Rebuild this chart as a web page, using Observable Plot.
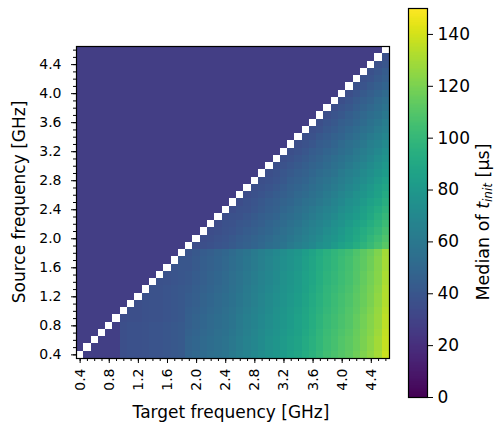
<!DOCTYPE html>
<html><head><meta charset="utf-8">
<script src="https://cdn.jsdelivr.net/npm/d3@7"></script>
<script src="https://cdn.jsdelivr.net/npm/@observablehq/plot@0.6"></script>
<style>
body{margin:0;background:#fff;}
#fig{position:relative;width:495px;height:425px;font-family:"DejaVu Sans",sans-serif;}
#fig svg{position:absolute;top:0;overflow:visible;}
</style></head><body><div id="fig"></div>
<script>
const targetFreqs = [0.4,0.5,0.6,0.7,0.8,0.9,1.0,1.1,1.2,1.3,1.4,1.5,1.6,1.7,1.8,1.9,2.0,2.1,2.2,2.3,2.4,2.5,2.6,2.7,2.8,2.9,3.0,3.1,3.2,3.3,3.4,3.5,3.6,3.7,3.8,3.9,4.0,4.1,4.2,4.3,4.4,4.5,4.6];
const sourceFreqs = [0.4,0.5,0.6,0.7,0.8,0.9,1.0,1.1,1.2,1.3,1.4,1.5,1.6,1.7,1.8,1.9,2.0,2.1,2.2,2.3,2.4,2.5,2.6,2.7,2.8,2.9,3.0,3.1,3.2,3.3,3.4,3.5,3.6,3.7,3.8,3.9,4.0,4.1,4.2,4.3,4.4,4.5,4.6];
const tickLabelFreqs = [0.4,0.8,1.2,1.6,2.0,2.4,2.8,3.2,3.6,4.0,4.4];
const colorbarTicks = [0,20,40,60,80,100,120,140];
const colorbarDomain = [0,150];

// median t_init [µs]; one row per source frequency (bottom to top), one column per target frequency
const medianRows = [
[null,28,28,28,28,28,36,37,37,38,39,39,40,41,42,48,50,52,54,56,58,61,64,67,70,73,76,79,82,85,88,92,96,100,104,107,110,113,117,121,125,130,138],
[27,null,28,28,28,28,36,37,37,38,39,39,40,41,42,47,49,51,53,55,57,60,63,66,69,72,75,78,81,84,87,91,95,99,103,106,109,112,116,120,124,129,137],
[27,27,null,28,28,28,36,37,37,38,39,39,40,41,42,47,49,51,53,55,57,60,63,66,69,72,75,78,81,84,87,91,95,99,103,106,109,112,116,120,124,129,137],
[27,27,27,null,28,28,36,37,37,38,39,39,40,41,42,46,48,50,52,54,56,59,62,65,68,71,74,77,80,83,86,90,94,98,102,105,108,111,115,119,123,128,136],
[27,27,27,27,null,28,36,37,37,38,39,39,40,41,42,45,47,49,51,53,55,58,61,64,67,70,73,76,79,82,85,89,93,97,101,104,107,110,114,118,122,127,135],
[27,27,27,27,27,null,35,36,36,37,38,38,39,40,41,45,47,49,51,53,55,58,61,64,67,70,73,76,79,82,85,89,93,97,101,104,107,110,114,118,122,127,135],
[27,27,27,27,27,27,null,36,36,37,38,38,39,40,41,44,46,48,50,52,54,57,60,63,66,69,72,75,78,81,84,88,92,96,100,103,106,109,113,117,121,126,134],
[27,27,27,27,27,27,27,null,36,37,38,38,39,40,41,43,45,47,49,51,53,56,59,62,65,68,71,74,77,80,83,87,91,95,99,102,105,108,112,116,120,125,133],
[27,27,27,27,27,27,27,27,null,37,38,38,39,40,41,43,45,47,49,51,53,56,59,62,65,68,71,74,77,80,83,87,91,95,99,102,105,108,112,116,120,125,133],
[27,27,27,27,27,27,27,27,27,null,38,38,39,40,41,42,44,46,48,50,52,55,58,61,64,67,70,73,76,79,82,86,90,94,98,101,104,107,111,115,119,124,132],
[27,27,27,27,27,27,27,27,27,27,null,37,38,39,40,41,43,45,47,49,51,54,57,60,63,66,69,72,75,78,81,85,89,93,97,100,103,106,110,114,118,123,131],
[27,27,27,27,27,27,27,27,27,27,27,null,38,39,40,41,43,45,47,49,51,54,57,60,63,66,69,72,75,78,81,85,89,93,97,100,103,106,110,114,118,123,131],
[27,27,27,27,27,27,27,27,27,27,27,27,null,39,40,40,42,44,46,48,50,53,56,59,62,65,68,71,74,77,80,84,88,92,96,99,102,105,109,113,117,122,130],
[27,27,27,27,27,27,27,27,27,27,27,27,27,null,40,40,42,44,46,48,50,53,56,59,62,65,68,71,74,77,80,84,88,92,96,99,102,105,109,113,117,122,130],
[27,27,27,27,27,27,27,27,27,27,27,27,27,27,null,39,41,43,45,47,49,52,55,58,61,64,67,70,73,76,79,83,87,91,95,98,101,104,108,112,116,121,129],
[27,27,27,27,27,27,27,27,27,27,27,27,27,27,27,null,35,36,37,39,40,42,44,46,48,50,53,55,58,61,64,67,70,74,77,81,85,89,93,97,101,106,111],
[27,27,27,27,27,27,27,27,27,27,27,27,27,27,27,27,null,35,36,38,39,41,43,45,47,49,51,54,56,59,62,65,68,71,75,78,82,86,90,94,99,103,108],
[27,27,27,27,27,27,27,27,27,27,27,27,27,27,27,27,27,null,35,36,38,39,41,43,45,47,49,52,54,57,60,63,66,69,73,76,80,84,88,92,96,100,105],
[27,27,27,27,27,27,27,27,27,27,27,27,27,27,27,27,27,27,null,35,37,38,40,41,43,45,48,50,52,55,58,61,64,67,70,74,77,81,85,89,93,97,102],
[27,27,27,27,27,27,27,27,27,27,27,27,27,27,27,27,27,27,27,null,35,37,38,40,42,44,46,48,51,53,56,59,62,65,68,71,75,79,82,86,90,95,100],
[27,27,27,27,27,27,27,27,27,27,27,27,27,27,27,27,27,27,27,27,null,35,37,38,40,42,44,46,49,51,54,57,60,63,66,69,73,76,80,84,88,92,97],
[27,27,27,27,27,27,27,27,27,27,27,27,27,27,27,27,27,27,27,27,27,null,35,37,39,41,43,45,47,49,52,55,57,60,63,67,70,74,77,81,85,89,94],
[27,27,27,27,27,27,27,27,27,27,27,27,27,27,27,27,27,27,27,27,27,27,null,35,37,39,41,43,45,47,50,52,55,58,61,64,68,71,75,78,82,86,91],
[27,27,27,27,27,27,27,27,27,27,27,27,27,27,27,27,27,27,27,27,27,27,27,null,36,37,39,41,43,46,48,50,53,56,59,62,65,69,72,76,80,84,88],
[27,27,27,27,27,27,27,27,27,27,27,27,27,27,27,27,27,27,27,27,27,27,27,27,null,36,37,39,41,44,46,48,51,54,57,60,63,66,70,73,77,81,85],
[27,27,27,27,27,27,27,27,27,27,27,27,27,27,27,27,27,27,27,27,27,27,27,27,27,null,36,38,40,42,44,46,49,52,54,57,61,64,67,71,74,78,82],
[27,27,27,27,27,27,27,27,27,27,27,27,27,27,27,27,27,27,27,27,27,27,27,27,27,27,null,36,38,40,42,44,47,49,52,55,58,61,65,68,72,75,80],
[27,27,27,27,27,27,27,27,27,27,27,27,27,27,27,27,27,27,27,27,27,27,27,27,27,27,27,null,36,38,40,42,45,47,50,53,56,59,62,65,69,73,77],
[27,27,27,27,27,27,27,27,27,27,27,27,27,27,27,27,27,27,27,27,27,27,27,27,27,27,27,27,null,36,38,40,43,45,48,50,53,56,60,63,66,70,74],
[27,27,27,27,27,27,27,27,27,27,27,27,27,27,27,27,27,27,27,27,27,27,27,27,27,27,27,27,27,null,36,38,40,43,45,48,51,54,57,60,64,67,71],
[27,27,27,27,27,27,27,27,27,27,27,27,27,27,27,27,27,27,27,27,27,27,27,27,27,27,27,27,27,27,null,36,38,41,43,46,48,51,54,58,61,64,68],
[27,27,27,27,27,27,27,27,27,27,27,27,27,27,27,27,27,27,27,27,27,27,27,27,27,27,27,27,27,27,27,null,36,38,41,43,46,49,52,55,58,62,65],
[27,27,27,27,27,27,27,27,27,27,27,27,27,27,27,27,27,27,27,27,27,27,27,27,27,27,27,27,27,27,27,27,null,36,39,41,44,46,49,52,56,59,63],
[27,27,27,27,27,27,27,27,27,27,27,27,27,27,27,27,27,27,27,27,27,27,27,27,27,27,27,27,27,27,27,27,27,null,36,39,41,44,47,50,53,56,60],
[27,27,27,27,27,27,27,27,27,27,27,27,27,27,27,27,27,27,27,27,27,27,27,27,27,27,27,27,27,27,27,27,27,27,null,36,39,41,44,47,50,53,57],
[27,27,27,27,27,27,27,27,27,27,27,27,27,27,27,27,27,27,27,27,27,27,27,27,27,27,27,27,27,27,27,27,27,27,27,null,36,39,42,45,47,51,54],
[27,27,27,27,27,27,27,27,27,27,27,27,27,27,27,27,27,27,27,27,27,27,27,27,27,27,27,27,27,27,27,27,27,27,27,27,null,36,39,42,45,48,51],
[27,27,27,27,27,27,27,27,27,27,27,27,27,27,27,27,27,27,27,27,27,27,27,27,27,27,27,27,27,27,27,27,27,27,27,27,27,null,37,39,42,45,48],
[27,27,27,27,27,27,27,27,27,27,27,27,27,27,27,27,27,27,27,27,27,27,27,27,27,27,27,27,27,27,27,27,27,27,27,27,27,27,null,37,39,42,45],
[27,27,27,27,27,27,27,27,27,27,27,27,27,27,27,27,27,27,27,27,27,27,27,27,27,27,27,27,27,27,27,27,27,27,27,27,27,27,27,null,37,40,43],
[27,27,27,27,27,27,27,27,27,27,27,27,27,27,27,27,27,27,27,27,27,27,27,27,27,27,27,27,27,27,27,27,27,27,27,27,27,27,27,27,null,37,40],
[27,27,27,27,27,27,27,27,27,27,27,27,27,27,27,27,27,27,27,27,27,27,27,27,27,27,27,27,27,27,27,27,27,27,27,27,27,27,27,27,27,null,37],
[27,27,27,27,27,27,27,27,27,27,27,27,27,27,27,27,27,27,27,27,27,27,27,27,27,27,27,27,27,27,27,27,27,27,27,27,27,27,27,27,27,27,null]
];

if (medianRows.length !== sourceFreqs.length) throw new Error("rows: " + medianRows.length);
const cells = [];
medianRows.forEach((row, j) => {
  if (row.length !== targetFreqs.length) throw new Error("row " + j + " has " + row.length);
  row.forEach((v, i) => {
    if (v != null) cells.push({target: targetFreqs[i], source: sourceFreqs[j], value: v});
  });
});

const FONT = "DejaVu Sans";
const fmt = d => d.toFixed(1);
const colorOpts = {type: "linear", scheme: "viridis", domain: colorbarDomain};

const main = Plot.plot({
  width: 400, height: 425,
  marginLeft: 76, marginRight: 11, marginTop: 46, marginBottom: 67,
  style: {fontFamily: FONT, fontSize: "14px", background: "transparent", color: "black"},
  x: {type: "band", domain: targetFreqs, padding: 0, round: false},
  y: {type: "band", domain: sourceFreqs, padding: 0, reverse: true, round: false},
  color: colorOpts,
  marks: [
    Plot.cell(cells, {x: "target", y: "source", fill: "value", inset: 0, shapeRendering: "crispEdges"}),
    Plot.frame({stroke: "black", strokeWidth: 1.2}),
    Plot.axisX({ticks: targetFreqs, tickSize: 3, tickFormat: () => "", label: null}),
    Plot.axisX({ticks: tickLabelFreqs, tickSize: 5, tickRotate: -90, tickPadding: 5, tickFormat: fmt, fontSize: 14, label: null}),
    Plot.axisY({ticks: sourceFreqs, tickSize: 3, tickFormat: () => "", label: null}),
    Plot.axisY({ticks: tickLabelFreqs, tickSize: 5, tickPadding: 10, tickFormat: fmt, fontSize: 14, label: null})
  ]
});
main.style.left = "0px";

const ms = d3.select(main);
ms.append("text").attr("x", 231).attr("y", 418).attr("text-anchor", "middle")
  .attr("font-family", FONT).attr("font-size", 17).attr("fill", "black").text("Target frequency [GHz]");
ms.append("text").attr("transform", "translate(25,202) rotate(-90)").attr("text-anchor", "middle")
  .attr("font-family", FONT).attr("font-size", 17).attr("fill", "black").text("Source frequency [GHz]");

const cbStep = 0.5;
const cbSteps = d3.range(colorbarDomain[0], colorbarDomain[1], cbStep);
const cbar = Plot.plot({
  width: 95, height: 425,
  marginLeft: 8, marginRight: 68, marginTop: 8, marginBottom: 28,
  style: {fontFamily: FONT, fontSize: "17px", background: "transparent", color: "black"},
  x: {domain: [0, 1], axis: null},
  y: {domain: colorbarDomain},
  color: colorOpts,
  marks: [
    Plot.rect(cbSteps, {x1: () => 0, x2: () => 1, y1: d => d, y2: d => d + cbStep, fill: d => d + cbStep / 2, shapeRendering: "crispEdges"}),
    Plot.frame({stroke: "black", strokeWidth: 1.2}),
    Plot.axisY({anchor: "right", ticks: colorbarTicks, tickSize: 5, tickPadding: 5, fontSize: 17, label: null})
  ]
});
cbar.style.left = "400px";
const lab = d3.select(cbar).append("text").attr("transform", "translate(89,222) rotate(-90)")
  .attr("text-anchor", "middle").attr("font-family", FONT).attr("font-size", 17.5).attr("fill", "black");
lab.append("tspan").text("Median of ");
lab.append("tspan").attr("font-style", "italic").text("t");
lab.append("tspan").attr("font-style", "italic").attr("font-size", 12).attr("dy", 3).text("init");
lab.append("tspan").attr("dy", -3).text(" [µs]");

const fig = document.getElementById("fig");
fig.appendChild(main);
fig.appendChild(cbar);
</script>
</body></html>
